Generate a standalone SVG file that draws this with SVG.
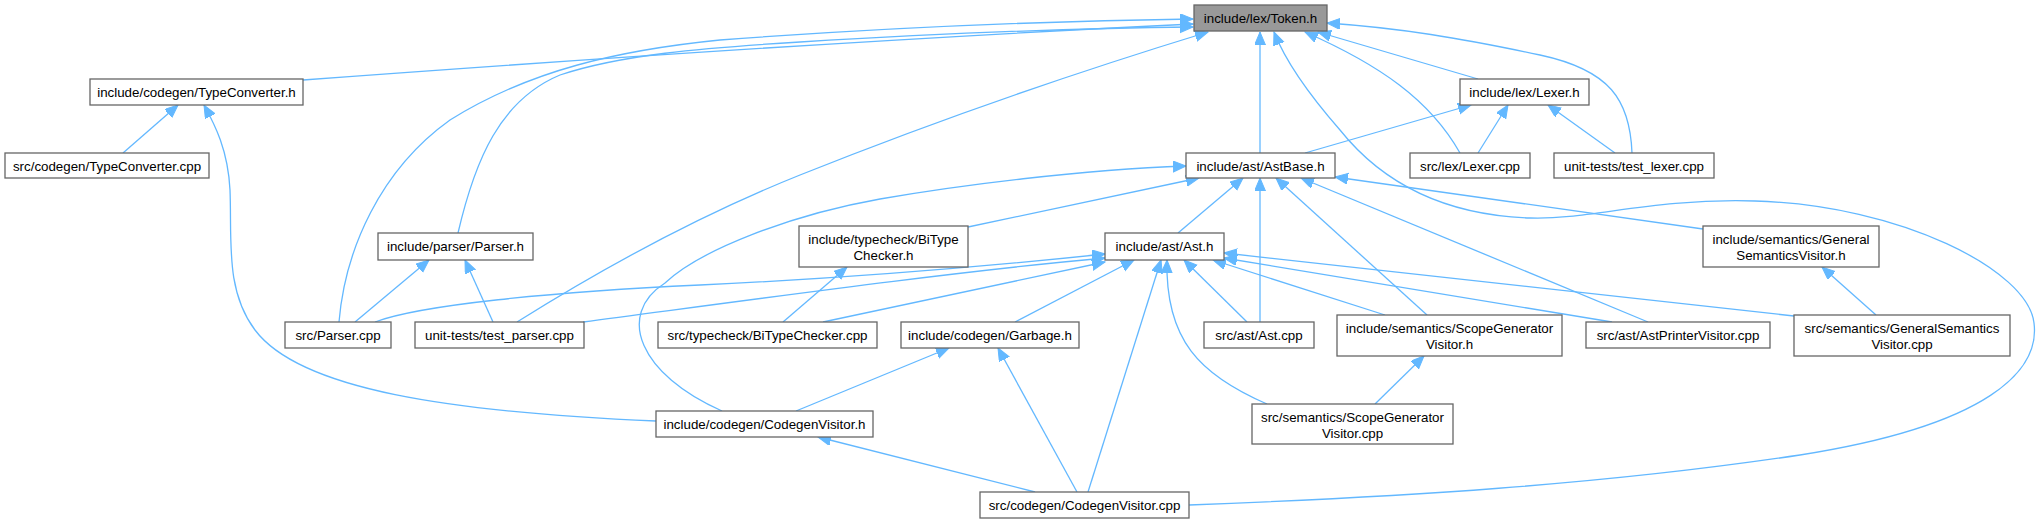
<svg xmlns="http://www.w3.org/2000/svg" width="2041" height="523" viewBox="0 0 2041 523">
<defs>
<style>
.n rect{fill:#ffffff;stroke:#666666;stroke-width:1.3}
.n text{font-family:"Liberation Sans",Arial,Helvetica,sans-serif;font-size:13.33px;fill:#000000;text-anchor:middle}
#edges path{fill:none;stroke:#63b8ff;stroke-width:1.3;marker-end:url(#ah)}
</style>
<marker id="ah" markerUnits="userSpaceOnUse" markerWidth="15" markerHeight="12" refX="13" refY="5.5" orient="auto">
<path d="M0,0 L13,5.5 L0,11 z" fill="#63b8ff" stroke="#63b8ff" stroke-width="1"/>
</marker>
</defs>
<rect width="2041" height="523" fill="#ffffff"/>
<g id="edges">
<path d="M303,80 C 600,58 900,38 1193,24"/>
<path d="M339,322 C 345,250 380,170 450,120 C 530,70 620,50 720,40 C 880,28 1050,21 1193,19"/>
<path d="M458,233 C 475,160 500,100 560,75 C 620,55 700,48 800,42 C 950,33 1080,28 1193,27"/>
<path d="M517,322 C 600,270 700,215 800,175 C 950,115 1100,65 1208,32"/>
<path d="M1260,153 L1260,32"/>
<path d="M1189,505 C 1400,497 1600,485 1800,455 C 1990,425 2040,370 2034,323 C 2028,270 1900,205 1755,201 C 1650,198 1590,220 1530,218 C 1440,215 1380,180 1340,130 C 1305,90 1285,60 1274,32"/>
<path d="M1478,79 L1318,32"/>
<path d="M1460,153 C 1430,100 1380,65 1305,32"/>
<path d="M1632,153 C 1630,100 1610,70 1540,55 C 1460,38 1400,28 1327,23"/>
<path d="M1305,153 L1471,105"/>
<path d="M1478,153 L1508,105"/>
<path d="M1615,153 L1548,105"/>
<path d="M1178,233 L1243,178"/>
<path d="M1260,322 L1260,178"/>
<path d="M968,227 L1199,178"/>
<path d="M722,411 C 640,375 615,315 665,283 C 700,250 790,215 880,199 C 960,185 1080,170 1186,166"/>
<path d="M1427,315 L1276,178"/>
<path d="M1648,322 L1301,178"/>
<path d="M1703,229 L1335,177"/>
<path d="M783,322 L847,267"/>
<path d="M375,322 C 420,305 550,292 700,285 C 850,278 1000,265 1105,254"/>
<path d="M583,322 C 750,300 950,272 1105,258"/>
<path d="M823,322 L1105,262"/>
<path d="M1015,322 L1134,260"/>
<path d="M1088,492 L1161,260"/>
<path d="M1267,404 C 1200,375 1165,340 1167,260"/>
<path d="M1247,322 L1184,260"/>
<path d="M1385,315 L1213,260"/>
<path d="M1612,322 L1224,258"/>
<path d="M1794,316 L1224,253"/>
<path d="M355,322 L429,260"/>
<path d="M493,322 L465,260"/>
<path d="M123,153 L178,105"/>
<path d="M656,421 C 450,412 300,390 255,330 C 225,290 232,240 230,190 C 228,150 215,125 204,105"/>
<path d="M796,411 L949,348"/>
<path d="M1077,492 L998,348"/>
<path d="M1035,492 L818,437"/>
<path d="M1375,404 L1424,356"/>
<path d="M1876,315 L1822,267"/>
</g>
<g id="token_h" class="n"><rect x="1194" y="5" width="133" height="26" style="fill:#999999"/><text x="1260.5" y="23">include/lex/Token.h</text></g>
<g id="typeconverter_h" class="n"><rect x="90" y="79" width="213" height="26"/><text x="196.5" y="97">include/codegen/TypeConverter.h</text></g>
<g id="typeconverter_cpp" class="n"><rect x="5" y="153" width="204" height="25"/><text x="107" y="171">src/codegen/TypeConverter.cpp</text></g>
<g id="lexer_h" class="n"><rect x="1460" y="79" width="129" height="26"/><text x="1524.5" y="97">include/lex/Lexer.h</text></g>
<g id="astbase_h" class="n"><rect x="1186" y="153" width="149" height="25"/><text x="1260.5" y="171">include/ast/AstBase.h</text></g>
<g id="lexer_cpp" class="n"><rect x="1410" y="153" width="120" height="25"/><text x="1470" y="171">src/lex/Lexer.cpp</text></g>
<g id="test_lexer_cpp" class="n"><rect x="1554" y="153" width="160" height="25"/><text x="1634" y="171">unit-tests/test_lexer.cpp</text></g>
<g id="parser_h" class="n"><rect x="378" y="233" width="155" height="27"/><text x="455.5" y="251">include/parser/Parser.h</text></g>
<g id="bitypechecker_h" class="n"><rect x="799" y="226" width="169" height="41"/><text x="883.5" y="243.5">include/typecheck/BiType</text><text x="883.5" y="259.5">Checker.h</text></g>
<g id="ast_h" class="n"><rect x="1105" y="233" width="119" height="27"/><text x="1164.5" y="251">include/ast/Ast.h</text></g>
<g id="generalsemanticsvisitor_h" class="n"><rect x="1703" y="226" width="176" height="41"/><text x="1791" y="243.5">include/semantics/General</text><text x="1791" y="259.5">SemanticsVisitor.h</text></g>
<g id="parser_cpp" class="n"><rect x="285" y="322" width="106" height="26"/><text x="338" y="340">src/Parser.cpp</text></g>
<g id="test_parser_cpp" class="n"><rect x="415" y="322" width="169" height="26"/><text x="499.5" y="340">unit-tests/test_parser.cpp</text></g>
<g id="bitypechecker_cpp" class="n"><rect x="658" y="322" width="219" height="26"/><text x="767.5" y="340">src/typecheck/BiTypeChecker.cpp</text></g>
<g id="garbage_h" class="n"><rect x="901" y="322" width="178" height="26"/><text x="990" y="340">include/codegen/Garbage.h</text></g>
<g id="ast_cpp" class="n"><rect x="1204" y="322" width="110" height="26"/><text x="1259" y="340">src/ast/Ast.cpp</text></g>
<g id="scopegeneratorvisitor_h" class="n"><rect x="1337" y="315" width="225" height="41"/><text x="1449.5" y="332.5">include/semantics/ScopeGenerator</text><text x="1449.5" y="348.5">Visitor.h</text></g>
<g id="astprintervisitor_cpp" class="n"><rect x="1586" y="322" width="184" height="26"/><text x="1678" y="340">src/ast/AstPrinterVisitor.cpp</text></g>
<g id="generalsemanticsvisitor_cpp" class="n"><rect x="1794" y="315" width="216" height="41"/><text x="1902" y="332.5">src/semantics/GeneralSemantics</text><text x="1902" y="348.5">Visitor.cpp</text></g>
<g id="codegenvisitor_h" class="n"><rect x="656" y="411" width="217" height="26"/><text x="764.5" y="429">include/codegen/CodegenVisitor.h</text></g>
<g id="scopegeneratorvisitor_cpp" class="n"><rect x="1252" y="404" width="201" height="40"/><text x="1352.5" y="421.5">src/semantics/ScopeGenerator</text><text x="1352.5" y="437.5">Visitor.cpp</text></g>
<g id="codegenvisitor_cpp" class="n"><rect x="980" y="492" width="209" height="26"/><text x="1084.5" y="510">src/codegen/CodegenVisitor.cpp</text></g>
</svg>
